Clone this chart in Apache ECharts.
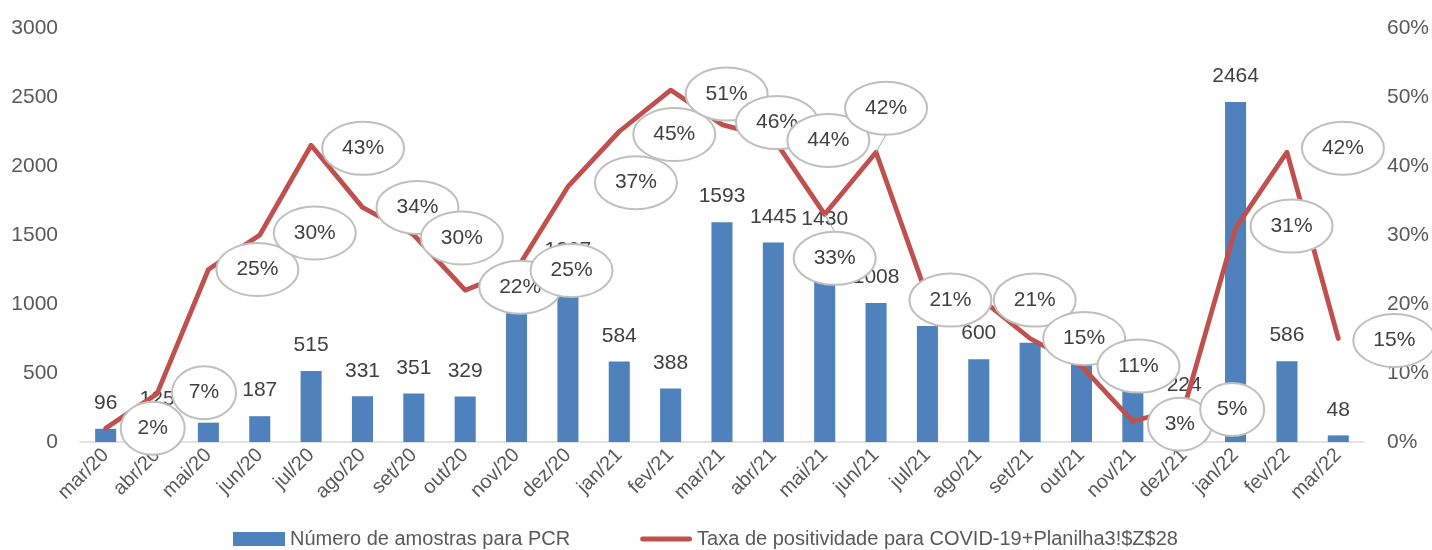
<!DOCTYPE html>
<html>
<head>
<meta charset="utf-8">
<script src="https://cdn.jsdelivr.net/npm/echarts@6/dist/echarts.min.js"></script>
<style>
html,body{margin:0;padding:0;background:#fff;}
#chart{width:1432px;height:550px;}
</style>
</head>
<body>
<div id="chart"></div>
<script>
// ---- data ----
const categories = ['mar/20','abr/20','mai/20','jun/20','jul/20','ago/20','set/20','out/20','nov/20','dez/20',
  'jan/21','fev/21','mar/21','abr/21','mai/21','jun/21','jul/21','ago/21','set/21','out/21','nov/21','dez/21',
  'jan/22','fev/22','mar/22'];
const samples = [96,125,140,187,515,331,351,329,990,1207,584,388,1593,1445,1430,1008,840,600,720,620,430,224,2464,586,48];
const positivity = [2,7,25,30,43,34,30,22,25,37,45,51,46,44,33,42,21,21,15,11,3,5,31,42,15];
const leftTicks = [0,500,1000,1500,2000,2500,3000];
const rightTicks = [0,10,20,30,40,50,60];
const seriesNames = ['Número de amostras para PCR','Taxa de positividade para COVID-19+Planilha3!$Z$28'];

// ---- label placement (style only: pixel offsets of callouts from their points) ----
const calloutOffset = [[47,0],[47,-1],[49,0],[55,-2],[52,3],[55,0],[48,3],[55,-3],[55,1],[68,-4],
  [55,3],[56,4],[55,-2],[55,2],[10,44],[10,-44],[23,3],[56,3],[54,0],[57,0],[47,3],[48,2],
  [56,-2],[56,-4],[56,2]];

const FONT = '"Liberation Sans", Arial, sans-serif';
const chart = echarts.init(document.getElementById('chart'));

const option = {
  animation: false,
  textStyle: { fontFamily: FONT },
  grid: { left: 80, right: 67, top: 28, bottom: 108 },
  legend: {
    left: 228, bottom: -4, itemWidth: 52, itemHeight: 14, itemGap: 70,
    textStyle: { fontSize: 20, color: '#595959', fontFamily: FONT },
    data: [
      { name: seriesNames[0], icon: 'rect' },
      { name: seriesNames[1], icon: 'path://M2,0 L50,0 A2.5,2.5 0 0 1 50,5 L2,5 A2.5,2.5 0 0 1 2,0 Z' }
    ]
  },
  xAxis: {
    type: 'category', data: categories,
    axisLine: { lineStyle: { color: '#D9D9D9', width: 1.5 } },
    axisTick: { show: false },
    axisLabel: { rotate: 45, fontSize: 20, color: '#595959', margin: 10, interval: 0 }
  },
  yAxis: [
    { type: 'value', min: leftTicks[0], max: leftTicks[leftTicks.length-1], interval: leftTicks[1]-leftTicks[0],
      splitLine: { show: false }, axisLine: { show: false }, axisTick: { show: false },
      axisLabel: { fontSize: 21, color: '#595959', margin: 22, formatter: function (v) { return String(v); } } },
    { type: 'value', min: rightTicks[0], max: rightTicks[rightTicks.length-1], interval: rightTicks[1]-rightTicks[0],
      splitLine: { show: false }, axisLine: { show: false }, axisTick: { show: false },
      axisLabel: { fontSize: 21, color: '#595959', margin: 23, formatter: '{value}%' } }
  ],
  series: [
    { name: seriesNames[0], type: 'bar', data: samples, yAxisIndex: 0, z: 2,
      barCategoryGap: '59%',
      itemStyle: { color: '#4F81BD' },
      label: { show: true, position: 'top', distance: 15, fontSize: 21, color: '#404040', fontFamily: FONT } },
    { name: seriesNames[1], type: 'line', data: positivity, yAxisIndex: 1, z: 3,
      symbol: 'none', showSymbol: false,
      lineStyle: { color: '#C0504D', width: 4.8, cap: 'round', join: 'round' },
      itemStyle: { color: '#C0504D' } },
    { type: 'custom', yAxisIndex: 1, z: 5, silent: true,
      data: positivity.map((v, i) => [i, v]),
      renderItem: function (params, api) {
        const i = api.value(0), v = api.value(1);
        const p = api.coord([i, v]);
        const off = calloutOffset[params.dataIndex];
        const cx = p[0] + off[0], cy = p[1] + off[1];
        const txt = Math.round(v) + '%';
        const rx = txt.length <= 2 ? 32 : 41, ry = 26.5;
        const children = [];
        if (Math.abs(off[1]) > 30) {
          const ey = off[1] > 0 ? cy - ry : cy + ry;
          children.push({ type: 'line', shape: { x1: p[0], y1: p[1], x2: cx, y2: ey },
            style: { stroke: '#A6A6A6', lineWidth: 1 } });
        }
        children.push({ type: 'ellipse', shape: { cx: cx, cy: cy, rx: rx, ry: ry },
          style: { fill: '#FFFFFF', stroke: '#BFBFBF', lineWidth: 2 } });
        children.push({ type: 'text', style: { text: txt, x: cx, y: cy, align: 'center', verticalAlign: 'middle',
          font: '21px ' + FONT, fill: '#404040' } });
        return { type: 'group', children: children };
      }
    }
  ]
};
chart.setOption(option);
</script>
</body>
</html>
